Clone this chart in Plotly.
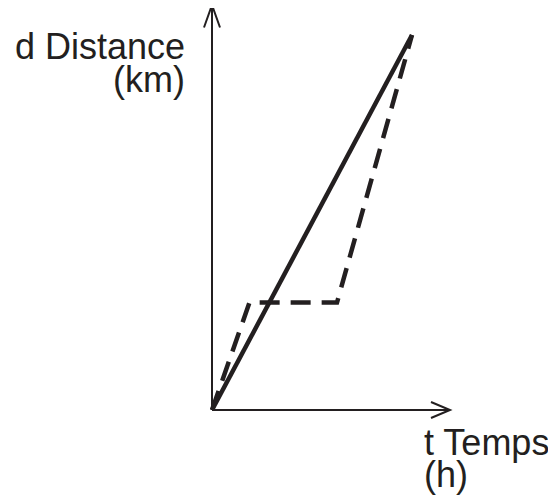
import plotly.graph_objects as go

# time (h) and distance (km)
t_solid = [0, 4.0]
d_solid = [0, 7.5]
t_dash = [0, 0.75, 2.5, 4.0]
d_dash = [0, 2.15, 2.15, 7.5]

FONT = "Liberation Sans, Arial, sans-serif"
INK = "#231f20"

fig = go.Figure()
fig.add_trace(go.Scatter(x=t_solid, y=d_solid, mode="lines",
                         line=dict(color=INK, width=4.5), hoverinfo="skip"))
fig.add_trace(go.Scatter(x=t_dash, y=d_dash, mode="lines",
                         line=dict(color=INK, width=4.5, dash="20px,11px"),
                         hoverinfo="skip"))

# axes with open arrow heads
x_tip, y_tip = 4.76, 8.1
fig.add_shape(type="line", x0=0, y0=0, x1=x_tip, y1=0, line=dict(color=INK, width=2))
fig.add_shape(type="line", x0=0, y0=0, x1=0, y1=y_tip, line=dict(color=INK, width=2))
fig.add_shape(type="path", path=f"M {x_tip-0.38},0.16 L {x_tip},0 L {x_tip-0.38},-0.16",
              line=dict(color=INK, width=2))
fig.add_shape(type="path", path=f"M -0.16,{y_tip-0.45} L 0,{y_tip} L 0.16,{y_tip-0.45}",
              line=dict(color=INK, width=2))

lbl = dict(showarrow=False, font=dict(family=FONT, size=36, color=INK),
           yanchor="middle", borderpad=0)
fig.add_annotation(x=-0.52, y=7.27, text="d Distance", xanchor="right", **lbl)
fig.add_annotation(x=-0.52, y=6.62, text="(km)", xanchor="right", **lbl)
fig.add_annotation(x=4.22, y=-0.64, text="t Temps", xanchor="left", **lbl)
fig.add_annotation(x=4.22, y=-1.29, text="(h)", xanchor="left", **lbl)

# the page body adds an 8px margin, so the figure is 8px smaller each way
fig.update_xaxes(range=[-4.08, 6.88], visible=False)
fig.update_yaxes(range=[-1.78, 8.04], visible=False)
fig.update_layout(width=548, height=491, autosize=False,
                  margin=dict(l=0, r=0, t=0, b=0),
                  plot_bgcolor="white", paper_bgcolor="white",
                  showlegend=False)
fig.write_html("out.html")
